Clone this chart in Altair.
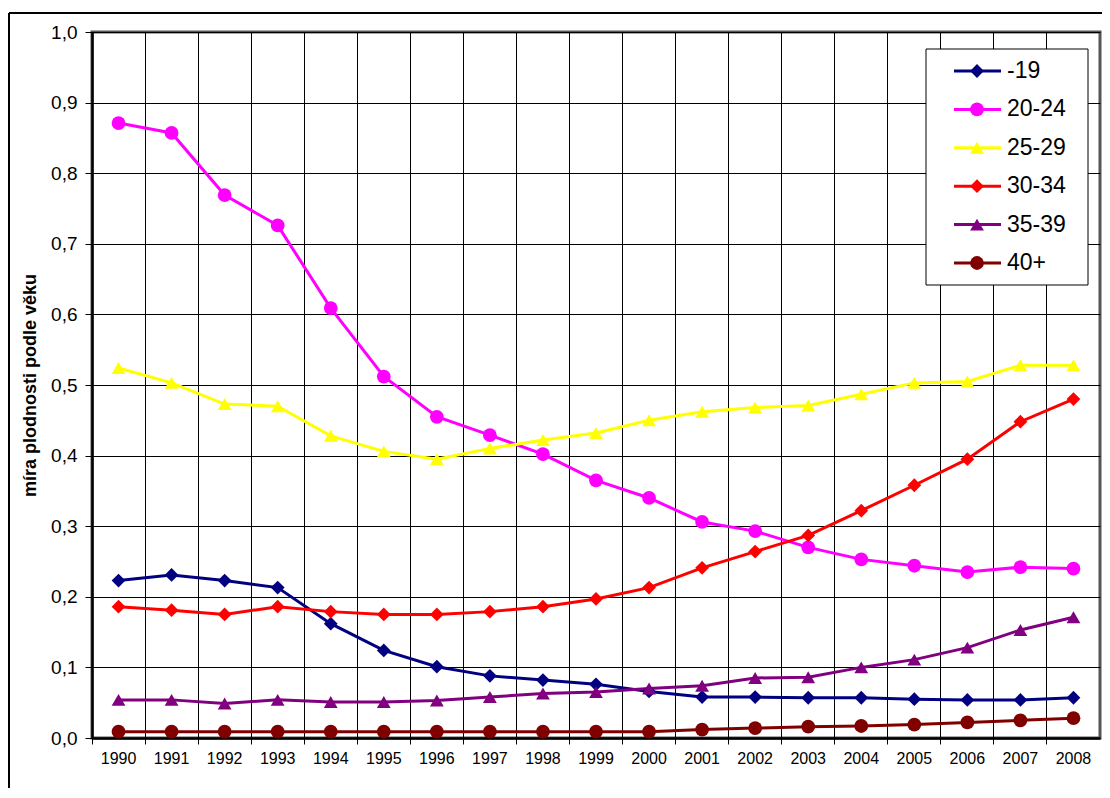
import altair as alt
import pandas as pd

years = [str(y) for y in range(1990, 2009)]
series_names = ["-19", "20-24", "25-29", "30-34", "35-39", "40+"]
s_19 = [0.223, 0.231, 0.223, 0.213, 0.162, 0.124, 0.101, 0.088, 0.082, 0.076,
        0.066, 0.058, 0.058, 0.057, 0.057, 0.055, 0.054, 0.054, 0.057]
s_20_24 = [0.871, 0.857, 0.769, 0.726, 0.609, 0.512, 0.455, 0.429, 0.402, 0.365,
           0.340, 0.306, 0.293, 0.270, 0.253, 0.244, 0.235, 0.242, 0.240]
s_25_29 = [0.524, 0.503, 0.473, 0.470, 0.428, 0.406, 0.395, 0.410, 0.422, 0.432,
           0.450, 0.462, 0.468, 0.471, 0.487, 0.503, 0.505, 0.528, 0.528]
s_30_34 = [0.186, 0.181, 0.175, 0.186, 0.179, 0.175, 0.175, 0.179, 0.186, 0.197,
           0.213, 0.241, 0.264, 0.287, 0.322, 0.358, 0.395, 0.448, 0.480]
s_35_39 = [0.054, 0.054, 0.049, 0.054, 0.051, 0.051, 0.053, 0.058, 0.063, 0.065,
           0.070, 0.074, 0.085, 0.086, 0.100, 0.111, 0.128, 0.153, 0.171]
s_40 = [0.009, 0.009, 0.009, 0.009, 0.009, 0.009, 0.009, 0.009, 0.009, 0.009,
        0.009, 0.012, 0.014, 0.016, 0.017, 0.019, 0.022, 0.025, 0.028]
colors = ["#000080", "#FF00FF", "#FFFF00", "#FF0000", "#800080", "#800000"]
shapes = ["diamond", "circle", "triangle-up", "diamond", "triangle-up", "circle"]
y_ticks = [round(i / 10, 1) for i in range(11)]

all_series = [s_19, s_20_24, s_25_29, s_30_34, s_35_39, s_40]
rows = []
for name, vals in zip(series_names, all_series):
    for yr, v in zip(years, vals):
        rows.append({"year": yr, "value": v, "series": name, "order": series_names.index(name)})
df = pd.DataFrame(rows)
legend_df = pd.DataFrame({"series": series_names})
one = pd.DataFrame({"k": [0]})

W, H = 1008, 706
FONT = "Liberation Sans"

color_scale = alt.Scale(domain=series_names, range=colors)
shape_scale = alt.Scale(domain=series_names, range=shapes)

x_enc = alt.X(
    "year:O",
    bandPosition=0.5,
    scale=alt.Scale(type="band", paddingInner=0, paddingOuter=0),
    axis=alt.Axis(
        title=None, bandPosition=0, grid=True, gridColor="#000000", gridWidth=1,
        ticks=True, tickSize=6, tickColor="#000000", tickWidth=1,
        labelFontSize=16, labelFont=FONT, labelColor="#000000",
        labelPadding=6, labelAngle=0, domainColor="#000000", domainWidth=2.5,
    ),
)
y_enc = alt.Y(
    "value:Q",
    scale=alt.Scale(domain=[0, 1], nice=False, zero=True),
    axis=alt.Axis(
        title="míra plodnosti podle věku", values=y_ticks,
        labelExpr="replace(format(datum.value, '.1f'), '.', ',')",
        grid=True, gridColor="#000000", gridWidth=1,
        tickSize=7, tickColor="#000000", tickWidth=1,
        labelFontSize=19, labelFont=FONT, labelColor="#000000", labelPadding=8,
        domainColor="#000000", domainWidth=2.5,
        titleFont=FONT, titleFontSize=18, titleFontWeight="bold", titleColor="#000000",
        titleX=-62, titleY=H / 2, titleAngle=-90, titleAlign="center", titleBaseline="middle",
    ),
)

lines = alt.Chart(df).mark_line(strokeWidth=3).encode(
    x=x_enc, y=y_enc,
    color=alt.Color("series:N", scale=color_scale, legend=None),
    detail="series:N",
)
points = alt.Chart(df).mark_point(filled=True, opacity=1, size=190).encode(
    x=alt.X("year:O", bandPosition=0.5),
    y="value:Q",
    color=alt.Color("series:N", scale=color_scale, legend=None),
    shape=alt.Shape("series:N", scale=shape_scale, legend=None),
    order="order:Q",
)

# outer frame of the chart
frame_left = alt.Chart(one).mark_rule(color="#000000", strokeWidth=2).encode(
    x=alt.value(-83), y=alt.value(-19), y2=alt.value(820))
frame_top = alt.Chart(one).mark_rule(color="#000000", strokeWidth=2).encode(
    x=alt.value(-83), x2=alt.value(1040), y=alt.value(-19))

# legend
ly = alt.Y("series:N", scale=alt.Scale(type="point", padding=0, domain=series_names, range=[39, 231]), axis=None)
leg_box = alt.Chart(one).mark_rect(fill="#FFFFFF", stroke="#000000", strokeWidth=1).encode(
    x=alt.value(834), x2=alt.value(996), y=alt.value(17), y2=alt.value(253))
leg_lines = alt.Chart(legend_df).mark_rule(strokeWidth=3).encode(
    x=alt.value(862), x2=alt.value(909), y=ly,
    color=alt.Color("series:N", scale=color_scale, legend=None))
leg_points = alt.Chart(legend_df).mark_point(filled=True, opacity=1, size=190).encode(
    x=alt.value(885), y=ly,
    color=alt.Color("series:N", scale=color_scale, legend=None),
    shape=alt.Shape("series:N", scale=shape_scale, legend=None))
leg_text = alt.Chart(legend_df).mark_text(
    align="left", baseline="middle", font=FONT, fontSize=23, color="#000000").encode(
    x=alt.value(915), y=ly, text="series:N")
legend = alt.layer(leg_box, leg_lines, leg_points, leg_text)

main = alt.layer(lines, points)

chart = alt.layer(main, frame_left, frame_top, legend).resolve_scale(y="independent").properties(
    width=W, height=H,
    autosize=alt.AutoSizeParams(type="none"),
    padding={"left": 84, "top": 24, "right": 2, "bottom": 50},
    background="#FFFFFF",
).configure_view(stroke="#555555", strokeWidth=3)

chart.save("out.html", embed_options={"renderer": "svg", "actions": False})
